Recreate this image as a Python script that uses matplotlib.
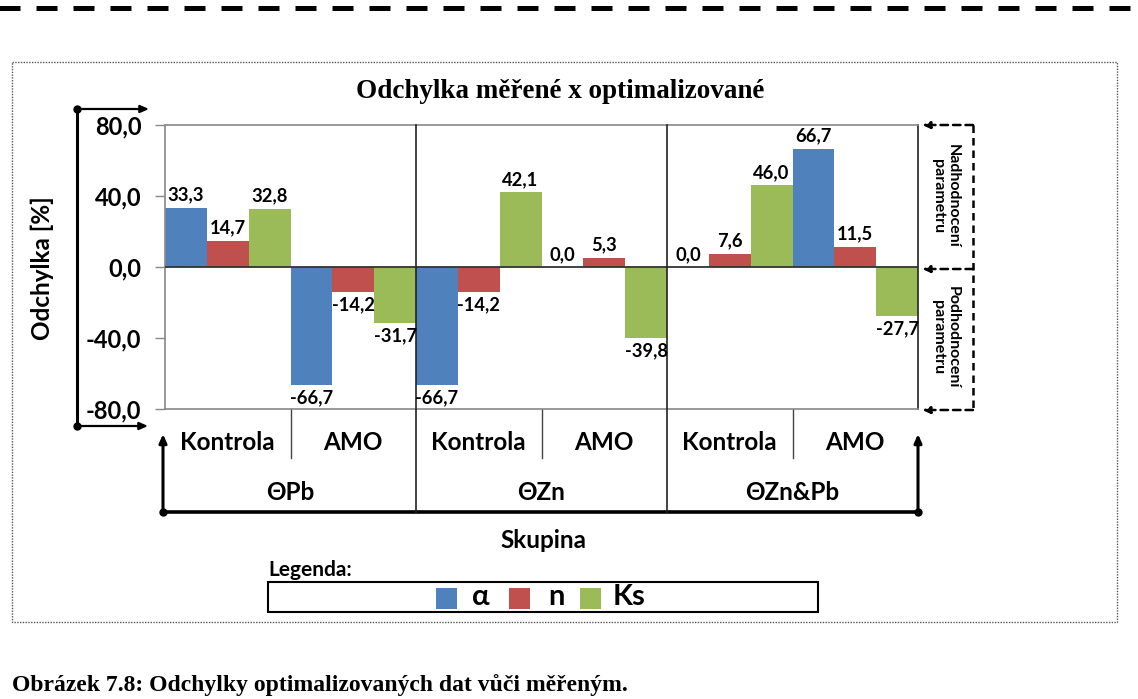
import matplotlib
matplotlib.use('Agg')
import matplotlib.pyplot as plt
import numpy as np
from matplotlib.patches import Rectangle

# ---------------- data ----------------
groups = ['ΘPb', 'ΘZn', 'ΘZn&Pb']
subgroups = ['Kontrola', 'AMO']
series = ['α', 'n', 'Ks']
alpha_vals = [33.3, -66.7, -66.7, 0.0, 0.0, 66.7]
n_vals = [14.7, -14.2, -14.2, 5.3, 7.6, 11.5]
ks_vals = [32.8, -31.7, 42.1, -39.8, 46.0, -27.7]
yticks = [80, 40, 0, -40, -80]
colors = ['#4F81BD', '#C0504D', '#9BBB59']

title = 'Odchylka měřené x optimalizované'
ylabel = 'Odchylka [%]'
xlabel = 'Skupina'
caption = 'Obrázek 7.8: Odchylky optimalizovaných dat vůči měřeným.'
over_txt = 'Nadhodnocení\nparametru'
under_txt = 'Podhodnocení\nparametru'

SANS = ['Lato', 'Open Sans', 'DejaVu Sans']
SERIF = ['Liberation Serif', 'DejaVu Serif']
plt.rcParams['font.family'] = SANS

W, H = 1138, 699
fig = plt.figure(figsize=(W / 100, H / 100), dpi=100)
fig.patch.set_facecolor('white')

# overlay in pixel coordinates for decorations
ov = fig.add_axes([0, 0, 1, 1])
ov.set_xlim(0, W)
ov.set_ylim(H, 0)
ov.axis('off')

# main plot
AX_L, AX_R, AX_T, AX_B = 165, 918, 125, 409
ax = fig.add_axes([AX_L / W, 1 - AX_B / H, (AX_R - AX_L) / W, (AX_B - AX_T) / H])
ax.set_xlim(0, 6)
ax.set_ylim(-80, 80)

def fy(py):
    return (AX_B - py) / (AX_B - AX_T)

x = np.arange(6)
bw = 1 / 3
all_vals = [alpha_vals, n_vals, ks_vals]
for k, (vals, c) in enumerate(zip(all_vals, colors)):
    pos = x + bw * k + bw / 2
    ax.bar(pos, vals, width=bw, color=c, linewidth=0, zorder=2)
    for p, v in zip(pos, vals):
        s = f'{v:.1f}'.replace('.', ',')
        if v >= 0:
            ax.annotate(s, (p, v), xytext=(0, 3), textcoords='offset points',
                        ha='center', va='bottom', fontsize=13.2, fontweight='bold',
                        zorder=4)
        else:
            ax.annotate(s, (p, v), xytext=(0, -3), textcoords='offset points',
                        ha='center', va='top', fontsize=13.2, fontweight='bold',
                        zorder=4)

ax.axhline(0, color='#333333', lw=1.3, zorder=3)
ax.set_yticks(yticks)
ax.set_yticklabels([f'{t:.1f}'.replace('.', ',') for t in yticks],
                   fontsize=17, fontweight='bold')
ax.tick_params(axis='y', length=7, width=1, color='#888888', pad=10)
ax.set_xticks([])
for sp in ['top', 'left', 'bottom']:
    ax.spines[sp].set_color('#888888')
    ax.spines[sp].set_linewidth(1.2)
ax.spines['right'].set_color('#333333')
ax.spines['right'].set_linewidth(1.3)

# group / category structure
xt = ax.get_xaxis_transform()
for gx in [2, 4]:
    ax.plot([gx, gx], [1, fy(512)], transform=xt, color='#222222', lw=1.2,
            clip_on=False, zorder=3)
for sx in [1, 3, 5]:
    ax.plot([sx, sx], [0, fy(458)], transform=xt, color='#444444', lw=1.0,
            clip_on=False)
for i in range(6):
    ax.text(i + 0.5, fy(443), subgroups[i % 2], transform=xt, ha='center',
            va='center', fontsize=17.5, fontweight='bold')
for g, name in enumerate(groups):
    ax.text(2 * g + 1, fy(493), name, transform=xt, ha='center', va='center',
            fontsize=17.5, fontweight='bold')

# ---------------- decorations (overlay) ----------------
# top dashed line
ln, = ov.plot([-6, W], [8, 8], color='black', lw=3.6, solid_capstyle='butt')
ln.set_dashes((21 * 0.72 / 3.6, 16 * 0.72 / 3.6))
ln.set_dash_capstyle('butt')

# dotted frame
ov.add_patch(Rectangle((12, 62), 1105, 560, fill=False, edgecolor='#555555',
                       lw=1.0, linestyle=(0, (1, 1))))

# title
ov.text(560, 92, title, ha='center', va='center', fontsize=19.5,
        fontweight='bold', family=SERIF)

# y label
ov.text(42, 268, ylabel, ha='center', va='center', rotation=90, fontsize=17.5,
        fontweight='bold')

arrow_kw = dict(arrowstyle='-|>,head_length=0.5,head_width=0.22', color='black',
                lw=1.6, shrinkA=0, shrinkB=0)

# left bracket
ov.plot([77, 77], [109, 426], color='black', lw=2.2)
ov.plot([77, 77], [109, 426], 'o', color='black', ms=5)
ov.annotate('', xy=(149, 109), xytext=(77, 109), arrowprops=arrow_kw)
ov.annotate('', xy=(148, 426), xytext=(77, 426), arrowprops=arrow_kw)

# bottom bracket
ov.plot([163, 918], [512, 512], color='black', lw=2.6)
ov.plot([163, 918], [512, 512], 'o', color='black', ms=5)
ov.annotate('', xy=(163, 434), xytext=(163, 512), arrowprops=dict(arrow_kw, lw=2.2))
ov.annotate('', xy=(918, 434), xytext=(918, 512), arrowprops=dict(arrow_kw, lw=2.2))

# right dashed brackets
dash_kw = dict(color='black', lw=1.8, linestyle=(0, (3, 2)))
ov.plot([973, 973], [125, 410], **dash_kw)
dashed_arrow = dict(arrowstyle='-|>,head_length=0.45,head_width=0.2', color='black',
                    lw=1.8, linestyle=(0, (3, 2)), shrinkA=0, shrinkB=0)
for yy in [125, 269, 410]:
    ov.annotate('', xy=(922, yy), xytext=(973, yy), arrowprops=dashed_arrow)
ov.text(945, 196, over_txt, ha='center', va='center', rotation=-90,
        fontsize=11.5, fontweight='bold', multialignment='center', linespacing=1.05)
ov.text(945, 337, under_txt, ha='center', va='center', rotation=-90,
        fontsize=11.5, fontweight='bold', multialignment='center', linespacing=1.05)

# x label
ov.text(543, 540, xlabel, ha='center', va='center', fontsize=17.5,
        fontweight='bold')

# legend
ov.text(268, 570, 'Legenda:', ha='left', va='center', fontsize=15,
        fontweight='bold')
ov.add_patch(Rectangle((268, 582), 550, 30, fill=False, edgecolor='black',
                       lw=1.5))
sq_x = [436, 509, 580]
lab_x = [472, 548, 613]
for sx, lx, c, name in zip(sq_x, lab_x, colors, series):
    ov.add_patch(Rectangle((sx, 588), 21, 21, facecolor=c, edgecolor='none'))
    ov.text(lx, 597, name, ha='left', va='center', fontsize=21,
            fontweight='bold')

# caption
ov.text(12, 685, caption, ha='left', va='center', fontsize=17,
        fontweight='bold', family=SERIF)

fig.savefig('out.png', dpi=100, facecolor='white')
